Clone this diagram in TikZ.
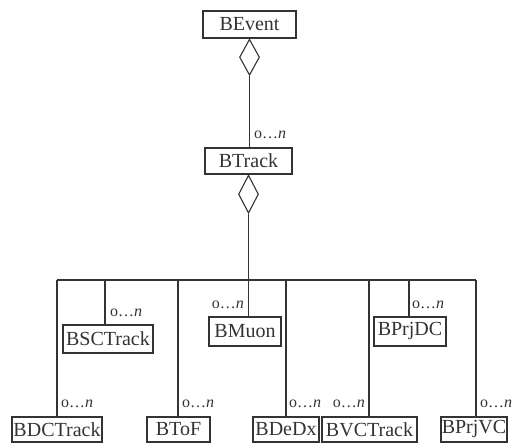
\documentclass[tikz,border=0pt]{standalone}
\usepackage{fontspec}
\setmainfont{Liberation Serif}
\usetikzlibrary{shapes.geometric}
\definecolor{ink}{HTML}{333333}
\begin{document}
\begin{tikzpicture}[x=1pt,y=-1pt,
  line/.style={draw=ink,line width=1.2pt},
  cls/.style={draw=ink,line width=1.3pt,inner sep=0pt,minimum height=26pt,
    font=\fontsize{20}{22}\selectfont,text=ink},
  agg/.style={diamond,draw=ink,line width=1.1pt,fill=white,inner sep=0pt,
    minimum width=20pt,minimum height=36pt,anchor=north},
  mult/.style={inner sep=0pt,font=\fontsize{16}{18}\selectfont,text=ink}]
\useasboundingbox (0,0) rectangle (513,444);

% class boxes
\node[cls,minimum width=93pt,minimum height=27pt] (bevent) at (249.5,24.5) {BEvent};
\node[cls,minimum width=87pt] (btrack) at (248.5,161) {BTrack};
\node[cls,minimum width=90pt,minimum height=28pt] (bsc) at (108,339) {BSCTrack};
\node[cls,minimum width=72pt,minimum height=29pt] (bmuon) at (245,331.5) {BMuon};
\node[cls,minimum width=72pt,minimum height=29pt] (bprjdc) at (410,331.5) {BPrjDC};
\node[cls,minimum width=90pt,minimum height=25pt] (bdc) at (57,429.5) {BDCTrack};
\node[cls,minimum width=63pt,minimum height=25pt] (btof) at (178.5,429.5) {BToF};
\node[cls,minimum width=66pt,minimum height=25pt] (bdedx) at (286,429.5) {BDeDx};
\node[cls,minimum width=95pt,minimum height=25pt] (bvc) at (369.5,429.5) {BVCTrack};
\node[cls,minimum width=66pt,minimum height=25pt] (bprjvc) at (474,429.5) {BPrjVC};

% aggregation diamonds
\node[agg] (d1) at (bevent.south) {};
\node[agg,minimum height=38pt] (d2) at (btrack.south) {};

% BEvent -> BTrack
\draw[line] (d1.south) -- (d1.south |- btrack.north);

% bus
\coordinate (j1) at (57,280);
\coordinate (j2) at (105,280);
\coordinate (j3) at (178,280);
\coordinate (j5) at (286,280);
\coordinate (j6) at (369,280);
\coordinate (j7) at (409,280);
\coordinate (j8) at (476,280);
\draw[line] (j1) -- (j8);
\draw[line] (d2.south) -- (d2.south |- bmuon.north);
\draw[line] (j1) -- (j1 |- bdc.north);
\draw[line] (j2) -- (j2 |- bsc.north);
\draw[line] (j3) -- (j3 |- btof.north);
\draw[line] (j5) -- (j5 |- bdedx.north);
\draw[line] (j6) -- (j6 |- bvc.north);
\draw[line] (j7) -- (j7 |- bprjdc.north);
\draw[line] (j8) -- (j8 |- bprjvc.north);

% multiplicities
\node[mult,anchor=south west] (m0) at (254,139) {o\ldots\textit{n}};
\node[mult,anchor=south west] (m2) at (110,317) {o\ldots\textit{n}};
\node[mult,anchor=south east] (m4) at (244,309) {o\ldots\textit{n}};
\node[mult,anchor=south west] (m7) at (412,309) {o\ldots\textit{n}};
\node[mult,anchor=south west] (m1) at (61,408) {o\ldots\textit{n}};
\node[mult,anchor=south west] (m3) at (182,408) {o\ldots\textit{n}};
\node[mult,anchor=south west] (m5) at (289,408) {o\ldots\textit{n}};
\node[mult,anchor=south east] (m6) at (365,408) {o\ldots\textit{n}};
\node[mult,anchor=south west] (m8) at (480,408) {o\ldots\textit{n}};
\end{tikzpicture}
\end{document}
